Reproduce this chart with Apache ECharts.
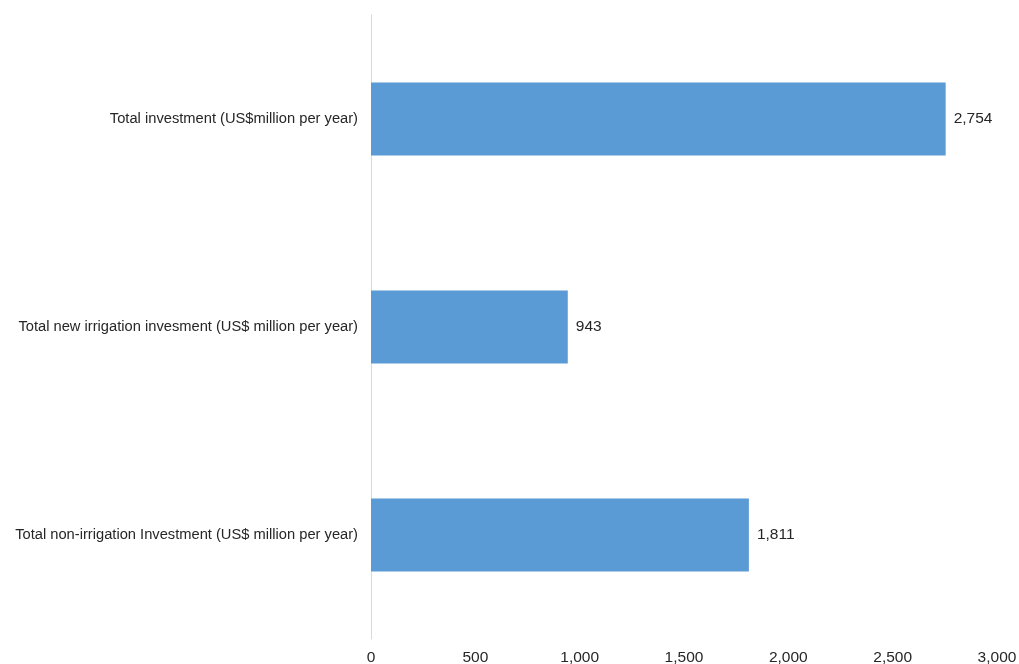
<!DOCTYPE html>
<html>
<head>
<meta charset="utf-8">
<script src="https://cdn.jsdelivr.net/npm/echarts@6/dist/echarts.min.js"></script>
<style>
  html, body { margin: 0; padding: 0; background: #ffffff; }
  #chart { width: 1019px; height: 664px; }
</style>
</head>
<body>
<div id="chart"></div>
<script>
// Investment categories, top to bottom
const categories = [
  'Total investment (US$million per year)',
  'Total new irrigation invesment (US$ million per year)',
  'Total non-irrigation Investment (US$ million per year)'
];
// Annual investment, US$ million
const values = [2754, 943, 1811];
// Value axis range
const axisMin = 0;
const axisMax = 3000;
const axisStep = 500;

const fmt = v => Math.round(v).toLocaleString('en-US');
const textColor = '#262626';
const fontFamily = 'Arial, Helvetica, sans-serif';

const chart = echarts.init(document.getElementById('chart'), null, { renderer: 'canvas' });
chart.setOption({
  animation: false,
  backgroundColor: '#ffffff',
  grid: {
    left: 371, right: 22, top: 15, bottom: 25,
    containLabel: false,
    outerBoundsMode: 'none'
  },
  xAxis: {
    type: 'value',
    min: axisMin,
    max: axisMax,
    interval: axisStep,
    axisLine: { show: false },
    axisTick: { show: false },
    splitLine: { show: false },
    axisLabel: {
      color: textColor,
      fontSize: 15.5,
      fontFamily: fontFamily,
      margin: 11,
      formatter: fmt
    }
  },
  yAxis: {
    type: 'category',
    inverse: true,
    data: categories,
    axisLine: { show: true, lineStyle: { color: '#d9d9d9', width: 1 } },
    axisTick: { show: false },
    splitLine: { show: false },
    axisLabel: {
      color: textColor,
      fontSize: 14.7,
      fontFamily: fontFamily,
      margin: 13
    }
  },
  series: [{
    type: 'bar',
    data: values,
    barWidth: '35.2%',
    itemStyle: { color: '#5b9bd5' },
    label: {
      show: true,
      position: 'right',
      distance: 8,
      color: textColor,
      fontSize: 15.5,
      fontFamily: fontFamily,
      formatter: p => fmt(p.value)
    }
  }]
});
</script>
</body>
</html>
